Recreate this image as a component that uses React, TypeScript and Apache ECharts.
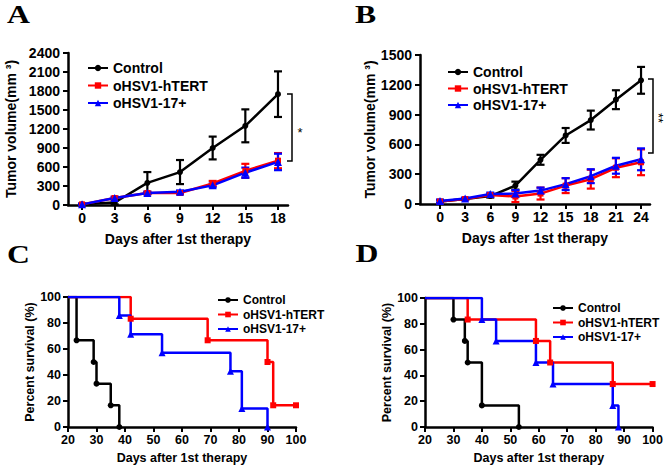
import React, { useEffect, useRef } from 'react';
import * as echarts from 'echarts';

const NAMES = ['Control', 'oHSV1-hTERT', 'oHSV1-17+'];
const COLORS = ['#000000', '#ff0000', '#0000ff'];
const SYMBOLS = ['circle', 'rect', 'triangle'];
const FONT = '"Liberation Sans", Arial, sans-serif';
const SERIF = '"Liberation Serif", "Times New Roman", serif';

// Panel A: tumor volume
const daysA = [0, 3, 6, 9, 12, 15, 18];
const ctrlA = [10, 40, 350, 520, 900, 1250, 1750];
const ctrlAErr = [10, 30, 170, 190, 180, 260, 360];
const htertA = [10, 110, 190, 190, 340, 540, 700];
const htertAErr = [10, 20, 20, 20, 40, 110, 120];
const v17A = [10, 110, 190, 210, 310, 510, 680];
const v17AErr = [10, 20, 20, 20, 30, 80, 130];
const yTicksA = [0, 2400, 300];

// Panel B: tumor volume
const daysB = [0, 3, 6, 9, 12, 15, 18, 21, 24];
const ctrlB = [25, 50, 80, 185, 445, 690, 845, 1050, 1245];
const ctrlBErr = [15, 10, 15, 40, 50, 75, 95, 95, 135];
const htertB = [25, 50, 90, 75, 105, 185, 250, 365, 420];
const htertBErr = [15, 10, 15, 55, 60, 75, 95, 95, 130];
const v17B = [30, 55, 100, 105, 135, 200, 280, 385, 450];
const v17BErr = [15, 10, 15, 35, 30, 60, 70, 80, 110];
const yTicksB = [0, 1500, 300];

// Panel C: survival
const ctrlCDays = [20, 23, 29, 30, 35, 38];
const ctrlCSurv = [100, 66.7, 50, 33.3, 16.7, 0];
const htertCDays = [20, 42, 69, 90, 92, 100];
const htertCSurv = [100, 83.3, 66.7, 50, 16.7, 16.7];
const v17CDays = [20, 38, 42, 53, 77, 81, 90];
const v17CSurv = [100, 85.7, 71.4, 57.1, 42.9, 14.3, 0];

// Panel D: survival
const ctrlDDays = [20, 30, 34, 35, 40, 53];
const ctrlDSurv = [100, 83.3, 66.7, 50, 16.7, 0];
const htertDDays = [20, 35, 59, 64, 86, 100];
const htertDSurv = [100, 83.3, 66.7, 50, 33.3, 33.3];
const v17DDays = [20, 40, 45, 59, 65, 86, 88];
const v17DSurv = [100, 83.3, 66.7, 50, 33.3, 16.7, 0];

const X_TITLE = 'Days after 1st therapy';
const Y_TITLE_VOL = 'Tumor volume(mm ³)';
const Y_TITLE_SURV = 'Percent survival (%)';

const plain = (v: number) => String(v);

function axisBase(fontSize: number, margin: number) {
  return {
    axisLine: { show: true, onZero: false, lineStyle: { color: '#000', width: 2.5 } },
    axisTick: { show: true, length: 5, lineStyle: { color: '#000', width: 2 } },
    axisLabel: { color: '#000', fontWeight: 'bold', fontFamily: FONT, fontSize, margin, formatter: plain },
    splitLine: { show: false },
    nameTextStyle: { color: '#000', fontWeight: 'bold', fontFamily: FONT, fontSize },
  };
}

function errSeries(idx: number, days: number[], m: number[], e: number[], color: string) {
  return {
    type: 'custom',
    name: 'err' + idx + color,
    xAxisIndex: idx,
    yAxisIndex: idx,
    z: 3,
    data: days.map((d, i) => [d, m[i] - e[i], m[i] + e[i]]),
    renderItem: (params: any, api: any) => {
      const x = api.value(0);
      const lo = api.coord([x, api.value(1)]);
      const hi = api.coord([x, api.value(2)]);
      const w = 4;
      const st = { stroke: color, lineWidth: 2.2 };
      return {
        type: 'group',
        children: [
          { type: 'line', shape: { x1: lo[0], y1: lo[1], x2: hi[0], y2: hi[1] }, style: st },
          { type: 'line', shape: { x1: lo[0] - w, y1: lo[1], x2: lo[0] + w, y2: lo[1] }, style: st },
          { type: 'line', shape: { x1: hi[0] - w, y1: hi[1], x2: hi[0] + w, y2: hi[1] }, style: st },
        ],
      };
    },
  };
}

function lineSeries(idx: number, k: number, days: number[], vals: number[], size: number) {
  return {
    type: 'line',
    name: NAMES[k],
    xAxisIndex: idx,
    yAxisIndex: idx,
    z: 4,
    data: days.map((d, i) => [d, vals[i]]),
    symbol: SYMBOLS[k],
    symbolSize: k === 2 ? size + 2 : size,
    lineStyle: { color: COLORS[k], width: 2.5 },
    itemStyle: { color: COLORS[k] },
  };
}

function stepSeries(idx: number, k: number, days: number[], vals: number[]) {
  return {
    type: 'line',
    name: NAMES[k],
    xAxisIndex: idx,
    yAxisIndex: idx,
    step: 'end',
    z: 4,
    data: days.map((d, i) => (i === 0 ? { value: [d, vals[i]], symbol: 'none' } : [d, vals[i]])),
    symbol: SYMBOLS[k],
    symbolSize: k === 2 ? 7 : 6,
    lineStyle: { color: COLORS[k], width: 2.5 },
    itemStyle: { color: COLORS[k] },
  };
}

function legendAt(left: number, top: number, fontSize: number, gap: number, ih: number) {
  return {
    left,
    top,
    orient: 'vertical',
    itemWidth: 20,
    itemHeight: ih,
    itemGap: gap,
    selectedMode: false,
    data: NAMES,
    textStyle: { color: '#000', fontWeight: 'bold', fontFamily: FONT, fontSize },
  };
}

function letter(t: string, x: number, y: number) {
  return {
    type: 'text',
    x,
    y,
    scaleX: 1.22,
    style: {
      text: t,
      fontFamily: SERIF,
      fontWeight: 'bold',
      fontSize: 26,
      fill: '#000',
      align: 'center',
      verticalAlign: 'middle',
    },
  };
}

export default function App() {
  const ref = useRef<HTMLDivElement>(null);
  useEffect(() => {
    if (!ref.current) return;
    const chart = echarts.init(ref.current, null, { renderer: 'svg' });
    const aTicks = daysA;
    const bTicks = daysB;
    const option: any = {
      animation: false,
      backgroundColor: '#fff',
      grid: [
        { left: 68, top: 53, width: 220, height: 152 },
        { left: 420, top: 55, width: 230, height: 149 },
        { left: 68, top: 297, width: 228, height: 130 },
        { left: 425, top: 298, width: 228, height: 129 },
      ],
      xAxis: [
        {
          ...axisBase(14, 6), gridIndex: 0, type: 'value', min: -1.29, max: 18.92,
          axisLabel: { ...axisBase(14, 6).axisLabel, customValues: aTicks },
          axisTick: { ...axisBase(14, 6).axisTick, customValues: aTicks },
          name: X_TITLE, nameLocation: 'middle', nameGap: 27,
        },
        {
          ...axisBase(14, 6), gridIndex: 1, type: 'value', min: -2.39, max: 25.07,
          axisLabel: { ...axisBase(14, 6).axisLabel, customValues: bTicks },
          axisTick: { ...axisBase(14, 6).axisTick, customValues: bTicks },
          name: X_TITLE, nameLocation: 'middle', nameGap: 27,
        },
        {
          ...axisBase(12.5, 6), gridIndex: 2, type: 'value', min: 20, max: 100, interval: 10,
          name: X_TITLE, nameLocation: 'middle', nameGap: 24,
        },
        {
          ...axisBase(12.5, 6), gridIndex: 3, type: 'value', min: 20, max: 100, interval: 10,
          name: X_TITLE, nameLocation: 'middle', nameGap: 24,
        },
      ],
      yAxis: [
        {
          ...axisBase(14, 8), gridIndex: 0, type: 'value', min: yTicksA[0], max: yTicksA[1], interval: yTicksA[2],
          name: Y_TITLE_VOL, nameLocation: 'middle', nameRotate: 90, nameGap: 50,
        },
        {
          ...axisBase(14, 8), gridIndex: 1, type: 'value', min: yTicksB[0], max: yTicksB[1], interval: yTicksB[2],
          name: Y_TITLE_VOL, nameLocation: 'middle', nameRotate: 90, nameGap: 41,
        },
        {
          ...axisBase(12.5, 7), gridIndex: 2, type: 'value', min: 0, max: 100, interval: 20,
          name: Y_TITLE_SURV, nameLocation: 'middle', nameRotate: 90, nameGap: 28,
        },
        {
          ...axisBase(12.5, 7), gridIndex: 3, type: 'value', min: 0, max: 100, interval: 20,
          name: Y_TITLE_SURV, nameLocation: 'middle', nameRotate: 90, nameGap: 30,
        },
      ],
      legend: [
        legendAt(82, 56, 14, 3.5, 8),
        legendAt(442, 60, 14, 2.5, 8),
        legendAt(212, 289, 12, 2.5, 7),
        legendAt(547, 297, 12, 2.5, 7),
      ],
      series: [
        errSeries(0, daysA, ctrlA, ctrlAErr, COLORS[0]),
        errSeries(0, daysA, htertA, htertAErr, COLORS[1]),
        errSeries(0, daysA, v17A, v17AErr, COLORS[2]),
        lineSeries(0, 0, daysA, ctrlA, 6),
        lineSeries(0, 1, daysA, htertA, 6),
        lineSeries(0, 2, daysA, v17A, 6),
        errSeries(1, daysB, ctrlB, ctrlBErr, COLORS[0]),
        errSeries(1, daysB, htertB, htertBErr, COLORS[1]),
        errSeries(1, daysB, v17B, v17BErr, COLORS[2]),
        lineSeries(1, 0, daysB, ctrlB, 6),
        lineSeries(1, 1, daysB, htertB, 6),
        lineSeries(1, 2, daysB, v17B, 6),
        stepSeries(2, 0, ctrlCDays, ctrlCSurv),
        stepSeries(2, 1, htertCDays, htertCSurv),
        stepSeries(2, 2, v17CDays, v17CSurv),
        stepSeries(3, 0, ctrlDDays, ctrlDSurv),
        stepSeries(3, 1, htertDDays, htertDSurv),
        stepSeries(3, 2, v17DDays, v17DSurv),
      ],
      graphic: [
        letter('A', 18.5, 14.5),
        letter('B', 365.5, 14.5),
        letter('C', 18.5, 254),
        letter('D', 367, 253),
        {
          type: 'polyline',
          shape: { points: [[287, 94], [292, 94], [292, 161], [287, 161]] },
          style: { stroke: '#000', lineWidth: 1.5, fill: 'none' },
        },
        {
          type: 'polyline',
          shape: { points: [[648, 79], [653, 79], [653, 153], [648, 153]] },
          style: { stroke: '#000', lineWidth: 1.5, fill: 'none' },
        },
        {
          type: 'text',
          x: 300,
          y: 132,
          style: { text: '*', fontFamily: FONT, fontSize: 13, fill: '#000', align: 'center', verticalAlign: 'middle' },
        },
        {
          type: 'text',
          x: 658.5,
          y: 118,
          rotation: -Math.PI / 2,
          style: { text: '**', fontFamily: FONT, fontSize: 13, letterSpacing: 2, fill: '#000', align: 'center', verticalAlign: 'middle' },
        },
      ],
    };
    chart.setOption(option);
    return () => chart.dispose();
  }, []);
  return (
    <div
      ref={ref}
      style={{ position: 'fixed', left: 0, top: 0, width: 666, height: 465, background: '#fff' }}
    />
  );
}
